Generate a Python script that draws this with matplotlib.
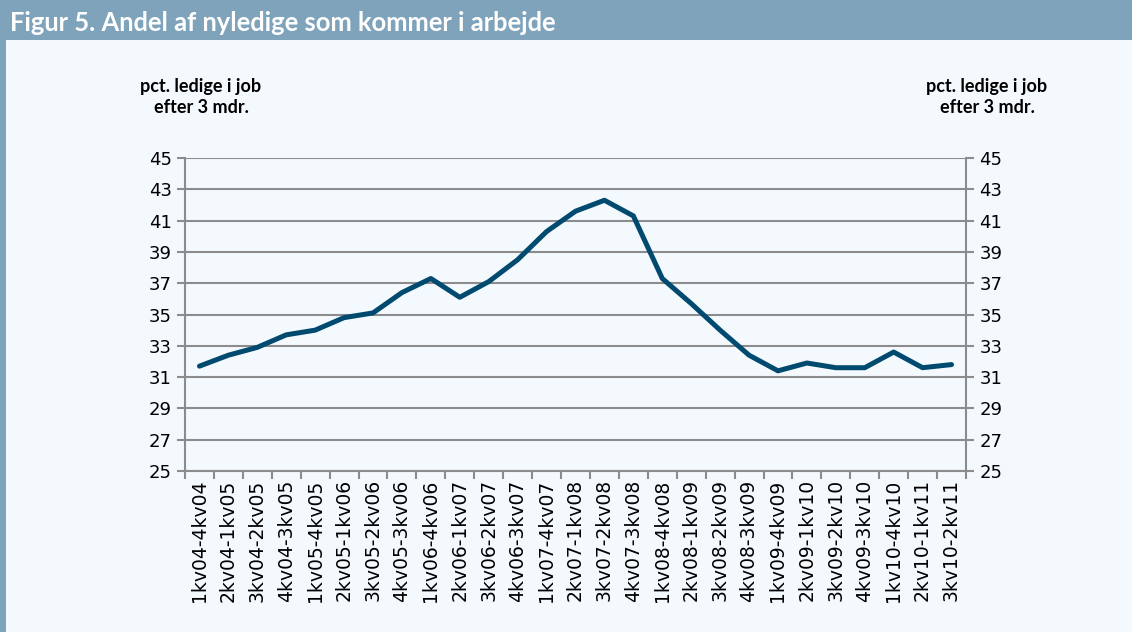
import numpy as np
import matplotlib
matplotlib.use('Agg')
from matplotlib import pyplot as plt
from matplotlib.patches import Rectangle

periods = ['1kv04-4kv04', '2kv04-1kv05', '3kv04-2kv05', '4kv04-3kv05',
           '1kv05-4kv05', '2kv05-1kv06', '3kv05-2kv06', '4kv05-3kv06',
           '1kv06-4kv06', '2kv06-1kv07', '3kv06-2kv07', '4kv06-3kv07',
           '1kv07-4kv07', '2kv07-1kv08', '3kv07-2kv08', '4kv07-3kv08',
           '1kv08-4kv08', '2kv08-1kv09', '3kv08-2kv09', '4kv08-3kv09',
           '1kv09-4kv09', '2kv09-1kv10', '3kv09-2kv10', '4kv09-3kv10',
           '1kv10-4kv10', '2kv10-1kv11', '3kv10-2kv11']
share_in_job = [31.7, 32.4, 32.9, 33.7, 34.0, 34.8, 35.1, 36.4,
                37.3, 36.1, 37.1, 38.5, 40.3, 41.6, 42.3, 41.3,
                37.3, 35.7, 34.0, 32.4, 31.4, 31.9, 31.6, 31.6,
                32.6, 31.6, 31.8]
y_ticks = [25, 27, 29, 31, 33, 35, 37, 39, 41, 43, 45]

title = 'Figur 5. Andel af nyledige som kommer i arbejde'
axis_label = 'pct. ledige i job\nefter 3 mdr.'

bg = '#f4f9fd'
frame = '#7fa3ba'
grid = '#8c8c8c'
line_col = '#004a70'

plt.rcParams['font.family'] = 'DejaVu Sans'

fig = plt.figure(figsize=(11.32, 6.32), dpi=100, facecolor=bg)

# title bar and left border
fig.patches.append(Rectangle((0, 1 - 40 / 632), 1, 40 / 632, transform=fig.transFigure,
                             facecolor=frame, edgecolor='none', zorder=0))
fig.patches.append(Rectangle((0, 0), 6 / 1132, 1, transform=fig.transFigure,
                             facecolor=frame, edgecolor='none', zorder=0))
fig.text(10 / 1132, 1 - 23 / 632, title, color='white', fontsize=18.4,
         fontweight='bold', family='Lato', va='center', ha='left')

ax = fig.add_axes([185 / 1132, 1 - 471 / 632, 781 / 1132, 313 / 632])
ax.set_facecolor(bg)

x = np.arange(len(periods))
ax.plot(x, share_in_job, color=line_col, linewidth=3.6, solid_capstyle='round',
        solid_joinstyle='round', zorder=3)

ax.set_xlim(-0.5, len(periods) - 0.5)
ax.set_ylim(25, 45)
ax.set_yticks(y_ticks)
ax.yaxis.grid(True, color=grid, linewidth=1.5)
ax.set_axisbelow(True)

ax.set_xticks(x)
ax.set_xticklabels(periods, rotation=90)
ax.set_xticks(np.arange(len(periods) + 1) - 0.5, minor=True)
ax.tick_params(axis='x', which='major', length=0, pad=6, labelsize=13.5)
ax.tick_params(axis='x', which='minor', length=6, width=1.5, color=grid)

ax.tick_params(axis='y', which='major', length=6, width=1.5, color=grid,
               labelsize=13, left=True, right=True, labelleft=True, labelright=True)

for side in ['left', 'right', 'bottom']:
    ax.spines[side].set_color(grid)
    ax.spines[side].set_linewidth(1.5)
ax.spines['top'].set_visible(False)

fig.text(201 / 1132, 1 - 97 / 632, axis_label, ha='center', va='center',
         fontsize=13, fontweight='bold', family='Lato', linespacing=1.35)
fig.text(987 / 1132, 1 - 97 / 632, axis_label, ha='center', va='center',
         fontsize=13, fontweight='bold', family='Lato', linespacing=1.35)

fig.savefig('out.png', dpi=100, facecolor=bg)
